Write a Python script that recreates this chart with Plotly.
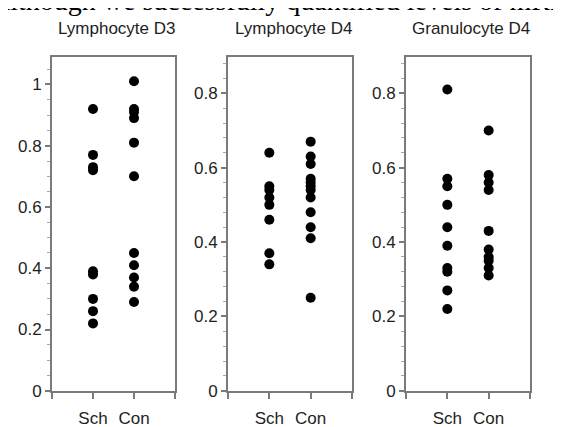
import plotly.graph_objects as go

titles = ["Lymphocyte D3", "Lymphocyte D4", "Granulocyte D4"]
groups = ["Sch", "Con"]

d3_sch = [0.92, 0.77, 0.73, 0.72, 0.39, 0.38, 0.30, 0.26, 0.22]
d3_con = [1.01, 0.92, 0.91, 0.89, 0.81, 0.70, 0.45, 0.41, 0.37, 0.34, 0.29]
l4_sch = [0.64, 0.55, 0.54, 0.52, 0.50, 0.46, 0.37, 0.34]
l4_con = [0.67, 0.63, 0.61, 0.57, 0.56, 0.55, 0.54, 0.52, 0.48, 0.44, 0.41, 0.25]
g4_sch = [0.81, 0.57, 0.55, 0.50, 0.44, 0.39, 0.33, 0.32, 0.27, 0.22]
g4_con = [0.70, 0.58, 0.56, 0.54, 0.43, 0.38, 0.36, 0.35, 0.33, 0.31]

panels = [(d3_sch, d3_con), (l4_sch, l4_con), (g4_sch, g4_con)]
y_tickvals = [[0, 0.2, 0.4, 0.6, 0.8, 1.0], [0, 0.2, 0.4, 0.6, 0.8], [0, 0.2, 0.4, 0.6, 0.8]]
y_ticktext = [["0", "0.2", "0.4", "0.6", "0.8", "1"], ["0", "0.2", "0.4", "0.6", "0.8"], ["0", "0.2", "0.4", "0.6", "0.8"]]
y_max = [1.09, 0.898, 0.898]
y_minor = [0.05, 0.04, 0.04]

W, H = 561, 427
xdom_px = [(44, 167), (220, 344), (398, 522)]
ydom = [(H - 392) / H, (H - 50) / H]

fig = go.Figure()
font = "Liberation Sans, Arial, sans-serif"
axcol = "#7a7a7a"
txtcol = "#1e1e1e"

for i, (sch, con) in enumerate(panels):
    sfx = "" if i == 0 else str(i + 1)
    xs = [1] * len(sch) + [2] * len(con)
    ys = sch + con
    fig.add_trace(go.Scatter(x=xs, y=ys, mode="markers",
                             marker=dict(color="black", size=10),
                             xaxis="x" + sfx, yaxis="y" + sfx, showlegend=False))
    x0, x1 = xdom_px[i]
    fig.layout["xaxis" + sfx] = dict(
        domain=[x0 / W, x1 / W], range=[0, 3], anchor="y" + sfx,
        tickvals=[0, 1, 2, 3], ticktext=["", groups[0], groups[1], ""],
        ticks="outside", ticklen=6, tickwidth=1.5, tickcolor=axcol,
        showline=True, linecolor=axcol, linewidth=2, mirror=True,
        showgrid=False, zeroline=False, ticklabelstandoff=5,
        tickfont=dict(family=font, size=17, color=txtcol))
    fig.layout["yaxis" + sfx] = dict(
        domain=list(ydom), range=[0, y_max[i]], anchor="x" + sfx,
        tickvals=y_tickvals[i], ticktext=y_ticktext[i],
        ticks="outside", ticklen=5, tickwidth=1.5, tickcolor=axcol,
        minor=dict(dtick=y_minor[i], tick0=0, ticks="outside", ticklen=3, tickcolor="#aaa", tickwidth=1),
        showline=True, linecolor=axcol, linewidth=2, mirror=True,
        showgrid=False, zeroline=False,
        tickfont=dict(family=font, size=17, color=txtcol))
    fig.add_annotation(text=titles[i], xref="paper", yref="paper",
                       x=(x0 + x1) / 2 / W + 0.006, y=(H - 21) / H, xanchor="center", yanchor="middle",
                       showarrow=False, font=dict(family=font, size=17, color=txtcol))

fig.add_annotation(text="Although we successfully quantified levels of mRNA", xref="paper", yref="paper",
                   x=-20 / W, y=(H - 10) / H, xanchor="left", yanchor="bottom", showarrow=False,
                   font=dict(family="Liberation Serif, Times New Roman, serif", size=28, color="black"))

fig.update_layout(width=W, height=H, margin=dict(l=0, r=0, t=0, b=0),
                  plot_bgcolor="white", paper_bgcolor="white")
fig.write_html("out.html")
